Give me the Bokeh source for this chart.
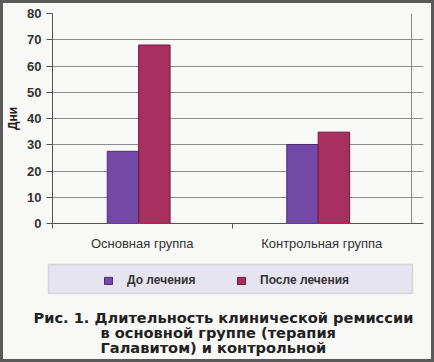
from bokeh.plotting import figure
from bokeh.layouts import column
from bokeh.models import (ColumnDataSource, Range1d, FixedTicker, Label, BoxAnnotation,
                          Legend, LegendItem)
from bokeh.transform import dodge
from bokeh.embed import file_html
from bokeh.resources import INLINE

categories = ["Основная группа", "Контрольная группа"]
series = ["До лечения", "После лечения"]
before = [27.5, 30.1]
after = [68.0, 34.8]
y_ticks = [0, 10, 20, 30, 40, 50, 60, 70, 80]
y_label = "Дни"
caption = ["Рис. 1. Длительность клинической ремиссии",
           "в основной группе (терапия",
           "Галавитом) и контрольной"]

colors = ["#7448a6", "#a8305e"]
edge = ["#4e2c78", "#6e1a3c"]
BG = "#f8f8f6"
B = 3                    # outer frame thickness
W = 434 - 2 * B
TOP_H = 262 - B
BOT_H = 362 - 2 * B - TOP_H

# ---------------- chart ----------------
p = figure(width=W, height=TOP_H, output_backend="svg", toolbar_location=None,
           x_range=Range1d(0, 2 + 12 / 180), y_range=Range1d(0, 80),
           min_border_left=51 - B, min_border_right=W - (423 - B),
           min_border_top=13 - B, min_border_bottom=TOP_H - (223 - B),
           background_fill_color=BG, border_fill_color=BG)
p.outline_line_color = None
p.frame_align = False

src = ColumnDataSource(dict(x=[i + 0.5 for i in range(len(categories))],
                            before=before, after=after))
bw = 31.5 / 180
bar_kw = dict(width=bw, source=src, line_width=1)
r1 = p.vbar(x=dodge("x", -bw / 2 - 0.02, range=p.x_range), top="before",
            fill_color=colors[0], line_color=edge[0], **bar_kw)
r2 = p.vbar(x=dodge("x", bw / 2 - 0.02, range=p.x_range), top="after",
            fill_color=colors[1], line_color=edge[1], **bar_kw)

p.yaxis.ticker = FixedTicker(ticks=y_ticks)
p.yaxis.major_tick_out = 6
p.yaxis.major_tick_in = 0
p.yaxis.minor_tick_line_color = None
p.yaxis.axis_line_color = "#555555"
p.yaxis.major_tick_line_color = "#555555"
p.yaxis.major_label_text_font = "Liberation Sans"
p.yaxis.major_label_text_font_style = "bold"
p.yaxis.major_label_text_font_size = "13px"
p.yaxis.major_label_text_color = "#333333"
p.yaxis.major_label_standoff = 5
p.yaxis.axis_label = y_label
p.yaxis.axis_label_text_font = "Liberation Sans"
p.yaxis.axis_label_text_font_style = "bold"
p.yaxis.axis_label_text_font_size = "12px"
p.yaxis.axis_label_text_color = "#222222"
p.yaxis.axis_label_standoff = 4

p.xaxis.ticker = FixedTicker(ticks=[i + 0.5 for i in range(len(categories))],
                             minor_ticks=[0, 1])
p.xaxis.major_label_overrides = {i + 0.5: c for i, c in enumerate(categories)}
p.xaxis.major_tick_line_color = None
p.xaxis.major_tick_out = 0
p.xaxis.minor_tick_out = 5
p.xaxis.minor_tick_in = 0
p.xaxis.minor_tick_line_color = "#555555"
p.xaxis.axis_line_color = "#555555"
p.xaxis.major_label_text_font = "Liberation Sans"
p.xaxis.major_label_text_font_size = "13px"
p.xaxis.major_label_text_color = "#333333"
p.xaxis.major_label_standoff = 7

p.ygrid.ticker = FixedTicker(ticks=y_ticks)
p.ygrid.grid_line_color = "#8c8c8c"
p.xgrid.ticker = FixedTicker(ticks=[2])
p.xgrid.grid_line_color = "#8c8c8c"

# ---------------- legend + caption (data units = page pixels) ----------------
q = figure(width=W, height=BOT_H, output_backend="svg", toolbar_location=None,
           x_range=Range1d(B, B + W), y_range=Range1d(362 - B, 262),
           x_axis_type=None, y_axis_type=None,
           min_border=0, min_border_left=0, min_border_right=0,
           min_border_top=0, min_border_bottom=0,
           background_fill_color=BG, border_fill_color=BG)
q.outline_line_color = None
q.frame_align = False
q.grid.visible = False

# legend proxies share the chart's data and style; hidden in this panel
l1 = q.vbar(x=dodge("x", -bw / 2), top="before", fill_color=colors[0],
            line_color=edge[0], **bar_kw)
l2 = q.vbar(x=dodge("x", bw / 2), top="after", fill_color=colors[1],
            line_color=edge[1], **bar_kw)
l1.visible = False
l2.visible = False

q.add_layout(BoxAnnotation(left=48, right=412, top=264, bottom=293,
                           fill_color="#e6e4f0", fill_alpha=1.0,
                           line_color="#9a9a9a", line_width=1.5, level="underlay"))

legend = Legend(items=[LegendItem(label=series[0], renderers=[l1]),
                       LegendItem(label=series[1], renderers=[l2])],
                orientation="horizontal", location=(103 - B, (362 - B) - 287),
                background_fill_alpha=0, border_line_alpha=0,
                inactive_fill_alpha=0,
                padding=0, margin=0, spacing=34, label_width=75,
                glyph_width=10, glyph_height=9, label_height=14, label_standoff=14,
                label_text_font="Liberation Sans", label_text_font_style="bold",
                label_text_font_size="12px", label_text_color="#333333",
                click_policy="none")
q.add_layout(legend)

cap_pos = [(33, 317), (100, 332), (100, 347)]
for line, (cx, cy) in zip(caption, cap_pos):
    q.add_layout(Label(x=cx, y=cy, text=line, text_align="left",
                       text_baseline="middle", text_font="DejaVu Sans",
                       text_font_style="bold", text_font_size="14.6px",
                       text_color="#222222"))

page = column(p, q, spacing=0)
page.styles = {"border": f"{B}px solid #5a5a5a", "background-color": BG}

open("out.html", "w").write(file_html(page, INLINE))
